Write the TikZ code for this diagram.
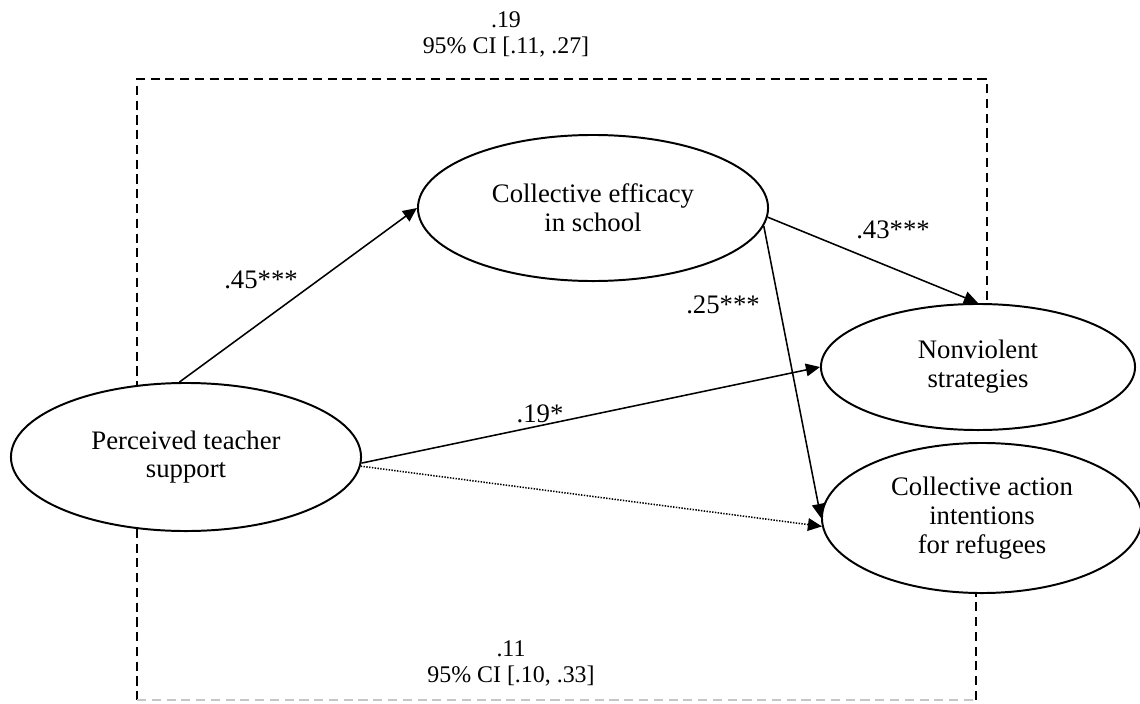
\documentclass[tikz,border=0pt]{standalone}
\usepackage{fontspec}
\setmainfont{Liberation Serif}
\usetikzlibrary{shapes.geometric,arrows.meta}
\tikzset{
  latent/.style={draw, ellipse, line width=1.4pt, fill=white, align=center,
    inner sep=0pt, font=\fontsize{19}{20.5}\selectfont},
  path arrow/.style={line width=1.1pt, -{Triangle[length=10pt,width=9pt]}},
  coef/.style={font=\fontsize{19}{21}\selectfont},
  ci/.style={align=center, font=\fontsize{17}{18.5}\selectfont},
  frame/.style={line width=1pt, dash pattern=on 6.5pt off 4pt},
}
\begin{document}
\begin{tikzpicture}[x=0.025cm,y=-0.025cm]
  \path[use as bounding box, fill=white] (0,0) rectangle (1140,704);
  % corners of the dashed frame
  \coordinate (TL) at (137,79);
  \coordinate (TR) at (987,79);
  \coordinate (BL) at (137,700);
  \coordinate (BR) at (976,700);
  \draw[frame] (987,300) -- (TR) -- (TL) -- (BL);
  \draw[frame] (BR) -- (976,592);
  \draw[frame, gray!45] (BL) -- (BR);

  % latent variables
  \node[latent, minimum width=8.75cm, minimum height=3.7cm] (pts) at (186,457) {Perceived teacher\\support};
  \node[latent, minimum width=8.75cm, minimum height=3.65cm] (ces) at (593,208) {Collective efficacy\\in school};
  \node[latent, minimum width=7.85cm, minimum height=3.15cm] (nvs) at (978,367) {Nonviolent\\strategies};
  \node[latent, minimum width=8cm, minimum height=3.75cm] (cai) at (982,518) {Collective action\\intentions\\for refugees};

  % paths
  \draw[path arrow] (pts.95) -- (ces.west);
  \draw[path arrow] (ces.-3) -- (nvs.north);
  \draw[path arrow] (ces.-6) -- (cai.west);
  \draw[path arrow] (pts.-2) -- (nvs.west);
  \draw[path arrow, dash pattern=on 1pt off 1pt] (pts.-3) -- (cai.183);

  % coefficients
  \node[coef] (b45) at (261,280) {.45***};
  \node[coef] (b43) at (893,230) {.43***};
  \node[coef] (b25) at (723,305) {.25***};
  \node[coef] (b19) at (540,414) {.19*};
  \node[ci] (total) at (506,34) {.19\\95\% CI [.11, .27]};
  \node[ci] (direct) at (511,663) {.11\\95\% CI [.10, .33]};
\end{tikzpicture}
\end{document}
